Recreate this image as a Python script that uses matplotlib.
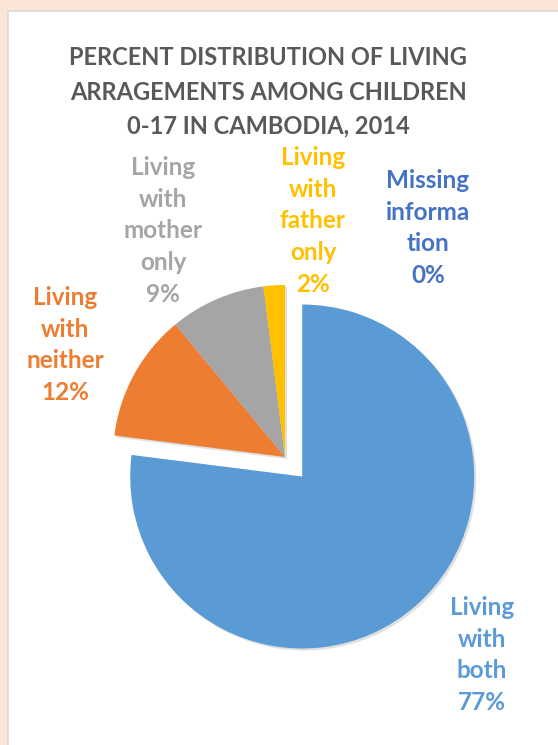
import matplotlib.pyplot as plt
from matplotlib.patches import Rectangle
import matplotlib.patheffects as pe

# living arrangements of children 0-17, Cambodia 2014 (percent)
categories = ['Living\nwith\nboth', 'Living\nwith\nneither', 'Living\nwith\nmother\nonly',
              'Living\nwith\nfather\nonly', 'Missing\ninforma\ntion']
values = [77, 12, 9, 2, 0]
colors = ['#5B9BD5', '#ED7D31', '#A5A5A5', '#FFC000', '#4472C4']
# pie offset in data units (pixels here), only the big slice is pulled out
explode = [26, 0, 0, 0, 0]

# label anchors (pixels, y measured from the bottom)
label_pos = [(482, 90), (65, 400), (163, 514), (313, 524), (428, 517)]

plt.rcParams['font.family'] = ['Lato', 'DejaVu Sans']

fig = plt.figure(figsize=(5.58, 7.45), dpi=100, facecolor='#FBE5D6')
ax = fig.add_axes([0, 0, 1, 1])

# white chart area
ax.add_patch(Rectangle((8, -10), 570, 745 - 11 + 10, facecolor='white',
                       edgecolor='#D9D9D9', linewidth=1.2, zorder=0))

wedges, _ = ax.pie(values, colors=colors, explode=explode, startangle=90,
                   counterclock=False, radius=172, center=(285, 288),
                   wedgeprops=dict(linewidth=0), frame=True)
for w in wedges:
    w.set_path_effects([pe.SimplePatchShadow(offset=(1.5, -1.5), shadow_rgbFace='#000000', alpha=0.12),
                        pe.Normal()])
ax.set_xlim(0, 558)
ax.set_ylim(0, 745)
ax.axis('off')

for name, v, c, (x, y) in zip(categories, values, colors, label_pos):
    ax.text(x, y, '%s\n%d%%' % (name, v), color=c, fontsize=17.5, fontweight='bold',
            ha='center', va='center', linespacing=1.46)

ax.text(268, 745 - 92, 'PERCENT DISTRIBUTION OF LIVING\nARRAGEMENTS AMONG CHILDREN\n0-17 IN CAMBODIA, 2014',
        color='#595959', fontsize=17, fontweight='bold', ha='center', va='center', linespacing=1.6)

plt.savefig('out.png', dpi=100, facecolor=fig.get_facecolor())
